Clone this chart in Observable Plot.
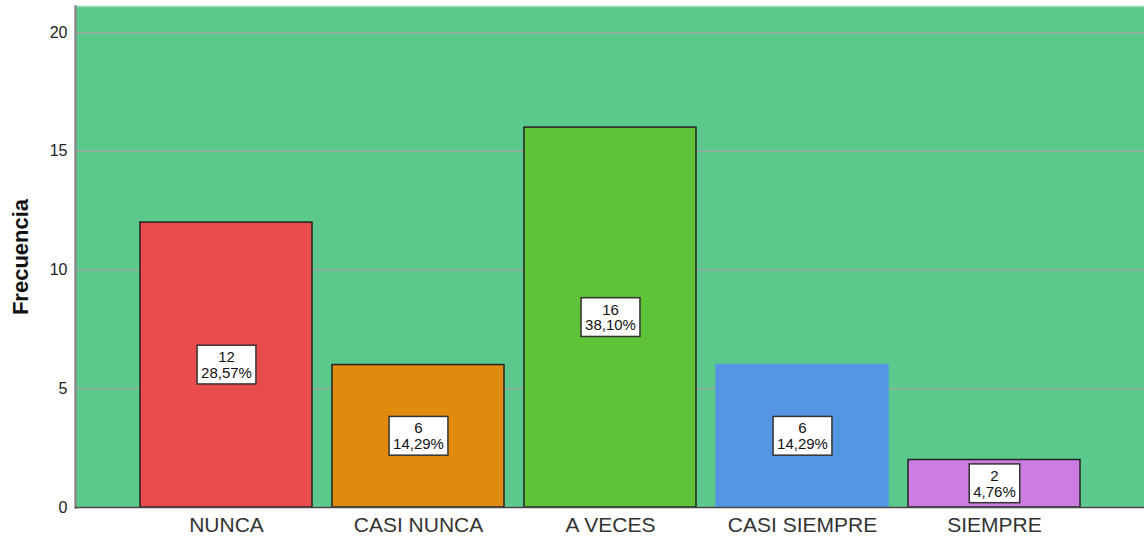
<!DOCTYPE html>
<html><head><meta charset="utf-8">
<script src="https://cdn.jsdelivr.net/npm/d3@7"></script>
<script src="https://cdn.jsdelivr.net/npm/@observablehq/plot@0.6"></script>
<style>body{margin:0;background:#fff;font-family:"Liberation Sans",Arial,sans-serif}</style>
</head><body><div id="chart"></div>
<script>
const categories = ["NUNCA", "CASI NUNCA", "A VECES", "CASI SIEMPRE", "SIEMPRE"];
const counts = [12, 6, 16, 6, 2];
const percents = ["28,57%", "14,29%", "38,10%", "14,29%", "4,76%"];
const colors = ["#EA4B4D", "#E08A0F", "#5EC337", "#5596E4", "#CC7DE2"];
const yTicks = [0, 5, 10, 15, 20];

const data = categories.map((c, i) => ({cat: c, n: counts[i], pct: percents[i]}));

const chart = Plot.plot({
  width: 1144, height: 542,
  marginLeft: 75, marginRight: 0, marginTop: 6, marginBottom: 35,
  style: {fontFamily: '"Liberation Sans", Arial, sans-serif', background: "#fff"},
  x: {domain: categories, range: [127.5, 1092.0], paddingInner: 0.102, paddingOuter: 0.051, label: null},
  y: {domain: [0, 21.1], label: null},
  color: {domain: categories, range: colors},
  marks: [
    Plot.frame({fill: "#5CC98C", stroke: null}),
    Plot.frame({anchor: "top", stroke: "#8fdcae", strokeWidth: 1.5}),
    Plot.gridY(yTicks, {stroke: "#a6a6a6", strokeOpacity: 1, strokeWidth: 1.2}),
    Plot.barY(data, {x: "cat", y: "n", fill: "cat",
      stroke: d => d.cat === "CASI SIEMPRE" ? "#5596E4" : "#222", strokeWidth: 1.5}),
    Plot.frame({anchor: "left", stroke: "#8a8a8a", strokeWidth: 2.5}),
    Plot.ruleY([0], {stroke: "#4a4a4a", strokeWidth: 1.5}),
    Plot.axisY(yTicks, {tickSize: 0, tickPadding: 8, fontSize: 16, fill: "#222", label: null}),
    Plot.axisX({tickSize: 0, tickPadding: 10, fontSize: 21, fill: "#333", label: null}),
    Plot.text(data, {x: "cat", y: d => d.n / 2, text: d => `${d.n}\n${d.pct}`,
      fontSize: 15, lineHeight: 1.05, fill: "#111", className: "vlabel"}),
    Plot.text(["Frecuencia"], {frameAnchor: "left", dx: -55, rotate: -90, textAnchor: "middle",
      fontWeight: "bold", fontSize: 22, fill: "#111"})
  ]
});
document.getElementById("chart").append(chart);

d3.select(chart).selectAll("g.vlabel text").each(function() {
  const b = this.getBBox();
  const padX = 4, padY = 3;
  const rect = document.createElementNS("http://www.w3.org/2000/svg", "rect");
  rect.setAttribute("x", b.x - padX);
  rect.setAttribute("y", b.y - padY);
  rect.setAttribute("width", b.width + 2 * padX);
  rect.setAttribute("height", b.height + 2 * padY);
  rect.setAttribute("fill", "#fff");
  rect.setAttribute("stroke", "#333");
  rect.setAttribute("stroke-width", "1.5");
  const t = this.getAttribute("transform");
  if (t) rect.setAttribute("transform", t);
  this.parentNode.insertBefore(rect, this);
});
</script>
</body></html>
